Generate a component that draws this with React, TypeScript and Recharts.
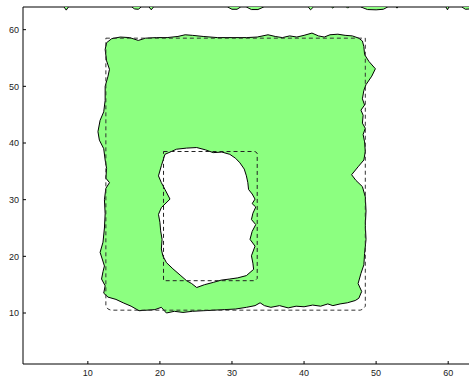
import React from "react";
import { ScatterChart, Scatter, XAxis, YAxis } from "recharts";

const GREEN = "#8cff80";

const xTicks = [10, 20, 30, 40, 50, 60];
const yTicks = [10, 20, 30, 40, 50, 60];

// outer boundary of the green region (x, y)
const outerContour = [
  [12.4, 56.5], [12.6, 57.7], [13.3, 58.4], [14.5, 58.7], [15.8, 58.6], [17.0, 58.1],
  [18.0, 58.5], [19.5, 58.6], [21.0, 58.6], [22.5, 58.8], [23.5, 59.1], [24.5, 59.0],
  [26.0, 58.8], [28.0, 58.6], [30.0, 58.6], [32.0, 58.6], [33.5, 58.7], [35.0, 59.1],
  [36.0, 58.8], [37.0, 58.6], [38.0, 58.9], [39.0, 58.7], [40.0, 59.0], [41.1, 59.4],
  [42.0, 58.9], [42.8, 58.7], [43.6, 59.1], [44.7, 59.2], [45.7, 59.0], [46.7, 58.9],
  [47.6, 58.5], [48.1, 58.0],
  [48.3, 57.0], [48.4, 55.6], [49.0, 54.4], [49.9, 53.1], [49.4, 51.8], [48.6, 50.3],
  [48.3, 49.3], [48.1, 47.8], [48.4, 46.7], [47.9, 45.8], [48.2, 44.9], [48.1, 43.5],
  [48.5, 42.6], [48.2, 41.5], [48.4, 40.2], [48.5, 38.5], [48.3, 37.0], [47.5, 35.8],
  [46.6, 34.4], [47.2, 33.4], [48.1, 32.3], [48.5, 30.5], [48.6, 28.0], [48.5, 25.5],
  [48.6, 23.0], [48.4, 20.5], [48.3, 18.5], [47.9, 17.0], [47.5, 15.2], [48.0, 13.8],
  [47.6, 12.6],
  [47.1, 12.2], [46.0, 11.8], [45.0, 11.6], [44.0, 11.3], [43.3, 11.6], [42.3, 11.2],
  [41.2, 11.4], [40.0, 11.1], [38.9, 11.2], [37.8, 10.9], [36.6, 11.3], [35.4, 11.0],
  [34.5, 11.3], [33.9, 11.8], [33.2, 11.3], [32.0, 11.0], [30.5, 10.7], [29.0, 10.6],
  [27.5, 10.5], [26.0, 10.4], [24.5, 10.3], [23.2, 10.1], [22.0, 10.3], [20.9, 10.0],
  [20.2, 11.0], [19.3, 10.6], [18.2, 10.5], [17.1, 10.4], [16.0, 11.2], [14.9, 11.8],
  [13.9, 12.4], [12.8, 12.8], [12.2, 13.5],
  [12.4, 14.8], [11.9, 16.0], [12.1, 17.3], [12.3, 18.3], [11.7, 20.7], [12.1, 22.5],
  [12.3, 25.0], [12.4, 27.5], [12.3, 30.0], [12.5, 32.0], [13.0, 33.0], [12.5, 33.8],
  [12.6, 35.5], [12.4, 37.0], [12.2, 39.0], [11.6, 40.5], [11.4, 42.0], [11.7, 44.0],
  [12.2, 45.5], [12.4, 47.5], [12.4, 50.0], [12.8, 51.8], [13.0, 53.0], [12.6, 54.5],
  [12.4, 56.5],
];

// the hole in the middle
const holeContour = [
  [20.7, 38.0], [22.3, 38.9], [23.7, 39.1], [25.1, 39.2], [26.3, 38.8], [27.4, 38.3],
  [28.6, 38.4], [29.7, 38.0], [30.5, 37.3], [31.1, 36.5], [31.7, 35.4], [32.0, 34.2],
  [32.2, 33.0], [32.3, 31.8], [32.8, 31.0], [33.2, 30.1], [32.8, 29.3], [33.3, 28.7],
  [32.9, 27.6], [32.7, 26.5], [33.3, 25.6], [32.8, 24.4], [32.5, 23.0], [33.2, 21.8],
  [32.7, 20.1], [32.9, 18.8], [33.0, 17.7], [32.0, 16.6], [30.8, 16.2], [29.7, 16.0],
  [28.5, 15.8], [27.4, 15.4], [26.2, 15.0], [25.1, 14.5], [24.4, 15.2], [23.7, 15.7],
  [22.8, 16.7], [21.8, 17.8], [20.9, 18.9], [20.4, 20.1], [20.2, 21.3], [20.3, 23.0],
  [20.1, 24.5], [20.0, 26.0], [19.8, 27.4], [20.2, 28.6], [21.4, 30.1], [20.7, 31.8],
  [20.2, 33.0], [19.8, 34.2], [20.2, 36.0], [20.7, 38.0],
];

// dashed rectangles
const outerBox = [
  [12.5, 58.5], [48.5, 58.5], [48.5, 11.2], [48.2, 10.7], [47.8, 10.5],
  [13.2, 10.5], [12.8, 10.7], [12.5, 11.2], [12.5, 58.5],
];
const innerBox = [
  [20.5, 38.5], [33.2, 38.5], [33.5, 38.2], [33.5, 16.1], [33.2, 15.7],
  [20.5, 15.7], [20.5, 38.5],
];

// small pieces cut off by the top edge
const topBlobs = [
  [[6.7, 64], [7.0, 63.45], [7.3, 64]],
  [[16.1, 64], [16.5, 63.65], [17.0, 63.6], [17.4, 64]],
  [[18.5, 64], [18.8, 63.5], [19.1, 64]],
  [[29.4, 64], [30.0, 63.6], [30.7, 63.6], [31.2, 64]],
  [[32.0, 64], [32.7, 63.55], [33.6, 63.55], [34.4, 64]],
  [[40.6, 64], [40.9, 63.5], [41.3, 64]],
  [[43.8, 64], [44.0, 63.8], [44.1, 64]],
  [[45.9, 64], [46.05, 63.8], [46.2, 64]],
  [[47.9, 64], [48.8, 63.55], [50.0, 63.5], [51.0, 63.6], [51.6, 64]],
  [[52.8, 64], [52.9, 63.8], [53.0, 64]],
  [[59.7, 64], [59.9, 63.5], [60.1, 64]],
  [[61.9, 64], [62.4, 63.6], [63.0, 63.65], [63.3, 64]],
];

const toPoints = (pts: number[][]) => pts.map(([x, y]) => ({ x, y }));

const NoDot = () => <g />;

const tickStyle = { fill: "#222", fontSize: 9, fontFamily: "Arial, Liberation Sans, sans-serif" };

export default function App() {
  return (
    <div style={{ position: "absolute", left: 0, top: 0, width: 469, height: 377, overflow: "hidden", background: "#fff" }}>
      <ScatterChart width={477} height={377} margin={{ top: 0, right: 0, bottom: 0, left: 0 }}>
        <XAxis
          type="number"
          dataKey="x"
          domain={[1, 64]}
          ticks={xTicks}
          allowDataOverflow
          height={13}
          tickSize={-3}
          tickMargin={9}
          stroke="#000"
          tick={tickStyle}
        />
        <XAxis
          xAxisId="top"
          orientation="top"
          type="number"
          dataKey="x"
          domain={[1, 64]}
          ticks={xTicks}
          allowDataOverflow
          height={7}
          tickSize={-3}
          tick={false}
          stroke="#000"
        />
        <YAxis
          type="number"
          dataKey="y"
          domain={[1, 64]}
          ticks={yTicks}
          allowDataOverflow
          width={23}
          tickSize={-3}
          tickMargin={7}
          stroke="#000"
          tick={tickStyle}
        />
        <Scatter
          data={toPoints(outerContour)}
          line={{ fill: GREEN, stroke: "#000", strokeWidth: 1 }}
          shape={NoDot}
          legendType="none"
          isAnimationActive={false}
        />
        <Scatter
          data={toPoints(holeContour)}
          line={{ fill: "#fff", stroke: "#000", strokeWidth: 1 }}
          shape={NoDot}
          legendType="none"
          isAnimationActive={false}
        />
        <Scatter
          data={toPoints(outerBox)}
          line={{ fill: "none", stroke: "#333", strokeWidth: 1, strokeDasharray: "4 3" }}
          shape={NoDot}
          legendType="none"
          isAnimationActive={false}
        />
        <Scatter
          data={toPoints(innerBox)}
          line={{ fill: "none", stroke: "#222", strokeWidth: 1, strokeDasharray: "4 3" }}
          shape={NoDot}
          legendType="none"
          isAnimationActive={false}
        />
        {topBlobs.map((b, i) => (
          <Scatter
            key={i}
            data={toPoints(b)}
            line={{ fill: GREEN, stroke: "#000", strokeWidth: 1 }}
            shape={NoDot}
            legendType="none"
            isAnimationActive={false}
          />
        ))}
      </ScatterChart>
    </div>
  );
}
